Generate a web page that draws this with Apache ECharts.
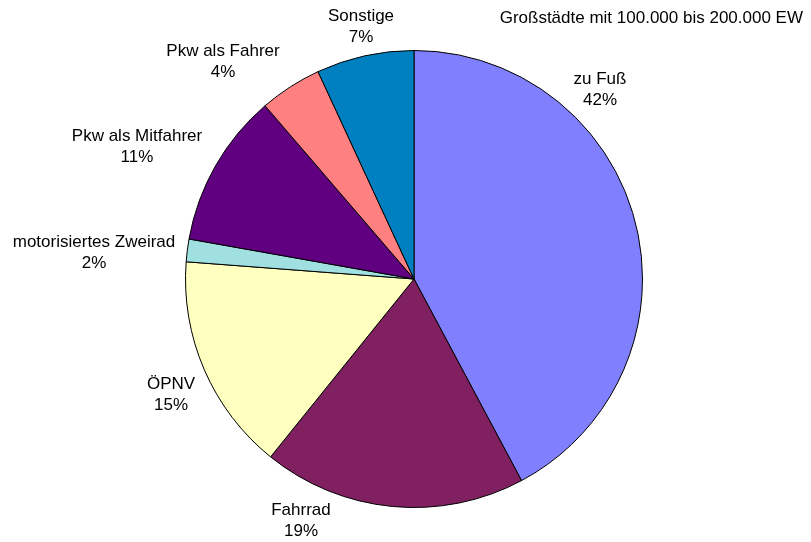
<!DOCTYPE html>
<html>
<head>
<meta charset="utf-8">
<script src="https://cdn.jsdelivr.net/npm/echarts@6/dist/echarts.min.js"></script>
<style>
	html, body { margin: 0; padding: 0; background: #fff; }
	#chart { width: 811px; height: 542px; }
</style>
</head>
<body>
<div id="chart"></div>
<script>
// Verkehrsmittelwahl (Anteile in %), im Uhrzeigersinn ab 12 Uhr
var categories = ['zu Fuß', 'Fahrrad', 'ÖPNV', 'motorisiertes Zweirad', 'Pkw als Mitfahrer', 'Pkw als Fahrer', 'Sonstige'];
var shares = [42.2, 18.6, 15.4, 1.6, 10.9, 4.4, 6.9];
var colors = ['#8080FF', '#802060', '#FFFFC0', '#A0E0E0', '#600080', '#FF8080', '#0080C0'];

// Lage der Beschriftungen (Mitte des Textblocks, wie im Original verschoben)
var labelPos = [[600, 90], [301, 521], [171, 395], [94, 253], [137, 147], [223, 62], [361, 27]];

var myChart = echarts.init(document.getElementById('chart'));

var seriesData = [];
for (var i = 0; i < categories.length; i++) {
	seriesData.push({
		name: categories[i],
		value: shares[i],
		itemStyle: { color: colors[i] }
	});
}

var option = {
	animation: false,
	backgroundColor: '#ffffff',
	title: {
		text: 'Großstädte mit 100.000 bis 200.000 EW',
		right: 8,
		top: 10,
		padding: 0,
		textStyle: {
			fontFamily: 'Liberation Sans, Arial, sans-serif',
			fontSize: 17,
			fontWeight: 'normal',
			color: '#000'
		}
	},
	series: [{
		type: 'pie',
		center: [414, 279],
		radius: [0, 228.5],
		startAngle: 90,
		clockwise: true,
		avoidLabelOverlap: false,
		silent: true,
		data: seriesData,
		itemStyle: {
			borderColor: '#000',
			borderWidth: 1
		},
		label: {
			show: true,
			position: 'outside',
			fontFamily: 'Liberation Sans, Arial, sans-serif',
			fontSize: 17,
			lineHeight: 21,
			color: '#000',
			formatter: function(p) {
				return p.name + '\n' + Math.round(p.value) + '%';
			}
		},
		labelLine: { show: false },
		labelLayout: function(params) {
			var pos = labelPos[params.dataIndex];
			return {
				x: pos[0],
				y: pos[1],
				align: 'center',
				verticalAlign: 'middle'
			};
		}
	}]
};

myChart.setOption(option);
</script>
</body>
</html>
